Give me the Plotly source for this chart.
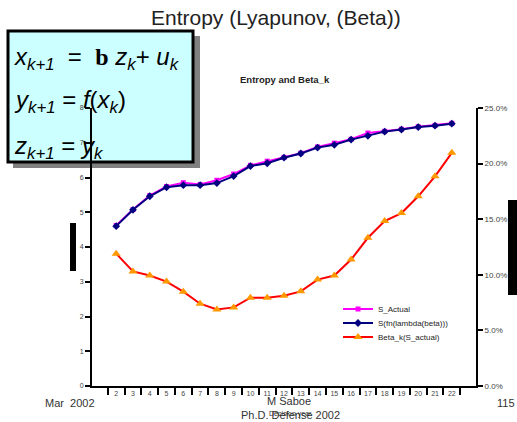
import plotly.graph_objects as go

W, H = 517, 422
ML, MR, MT, MB = 92, 41, 108, 36

cats = [str(k) for k in range(2, 23)]
s_actual = [4.62, 5.08, 5.48, 5.74, 5.85, 5.80, 5.92, 6.10, 6.35, 6.47, 6.58, 6.70, 6.88, 6.99, 7.10, 7.28, 7.33, 7.39, 7.46, 7.50, 7.56]
s_fn = [4.60, 5.07, 5.46, 5.72, 5.78, 5.78, 5.84, 6.04, 6.33, 6.41, 6.57, 6.69, 6.86, 6.94, 7.09, 7.20, 7.32, 7.38, 7.45, 7.49, 7.55]
beta_k = [0.119, 0.103, 0.0993, 0.0939, 0.0848, 0.074, 0.0689, 0.0707, 0.0794, 0.0794, 0.0812, 0.0851, 0.0957, 0.0993, 0.1137, 0.1333, 0.1483, 0.1555, 0.1706, 0.1886, 0.2097]

left_ticks = list(range(0, 9))
right_ticks = [0, 0.05, 0.10, 0.15, 0.20, 0.25]

PW, PH = W - ML - MR, H - MT - MB


def px(x):
    return (x - ML) / PW


def py(y):
    return (H - MB - y) / PH


fig = go.Figure()
fig.add_trace(go.Scatter(x=cats, y=s_actual, name="S_Actual", mode="lines+markers",
                         legend="legend",
                         line=dict(color="#ff00ff", width=2),
                         marker=dict(symbol="square", size=5, color="#ff00ff")))
fig.add_trace(go.Scatter(x=cats, y=s_fn, name="S(fn(lambda(beta)))", mode="lines+markers",
                         legend="legend2",
                         line=dict(color="#000080", width=2),
                         marker=dict(symbol="diamond", size=6, color="#000080")))
fig.add_trace(go.Scatter(x=cats, y=beta_k, name="Beta_k(S_actual)", mode="lines+markers",
                         yaxis="y2", legend="legend3",
                         line=dict(color="#ff0000", width=2),
                         marker=dict(symbol="triangle-up", size=8, color="#ff9900")))

legfont = dict(family="Arial", size=8, color="#222222")


def leg(ycen):
    return dict(x=px(338), y=py(ycen), xanchor="left", yanchor="middle", font=legfont,
                bgcolor="rgba(0,0,0,0)", itemwidth=30, borderwidth=0)


tickfont = dict(family="Arial", size=7, color="#444444")
fig.update_layout(
    width=W, height=H, autosize=False,
    margin=dict(l=ML, r=MR, t=MT, b=MB, autoexpand=False),
    paper_bgcolor="white", plot_bgcolor="rgba(0,0,0,0)",
    showlegend=True,
    legend=leg(309), legend2=leg(323), legend3=leg(337),
    xaxis=dict(type="category", tickson="boundaries", showgrid=False, zeroline=False,
               showline=True, linecolor="black", linewidth=2, ticks="outside",
               ticklen=7, tickwidth=2, tickcolor="black", tickfont=tickfont, tickangle=0),
    yaxis=dict(range=[0, 8], tickvals=left_ticks, showgrid=False, zeroline=False,
               showline=True, linecolor="black", linewidth=2, ticks="outside",
               ticklen=5, tickwidth=2, tickcolor="black", tickfont=tickfont),
    yaxis2=dict(range=[0, 0.25], tickvals=right_ticks, tickformat=".1%", overlaying="y",
                side="right", showgrid=False, zeroline=False, showline=True,
                linecolor="black", linewidth=2, ticks="outside", ticklen=5, tickwidth=2,
                tickcolor="black", tickfont=dict(family="Arial", size=8, color="#444444")),
)

shapes = [
    # shadow of equation box
    dict(type="rect", xref="paper", yref="paper", x0=px(13), x1=px(200), y0=py(168), y1=py(36),
         fillcolor="#808080", line=dict(width=0), layer="below"),
    # equation box
    dict(type="rect", xref="paper", yref="paper", x0=px(8), x1=px(193), y0=py(162), y1=py(31),
         fillcolor="#ccffff", line=dict(color="black", width=3), layer="below"),
    # black bars
    dict(type="rect", xref="paper", yref="paper", x0=px(70), x1=px(76), y0=py(271), y1=py(223),
         fillcolor="black", line=dict(width=0)),
    dict(type="rect", xref="paper", yref="paper", x0=px(508), x1=px(517), y0=py(295), y1=py(200),
         fillcolor="black", line=dict(width=0)),
]
fig.update_layout(shapes=shapes)

eqfont = dict(family="Arial", size=24, color="black")
ann = [
    dict(text="Entropy (Lyapunov, (Beta))", x=px(276), y=py(17), font=dict(family="Arial", size=21, color="#222222")),
    dict(text="<b>Entropy and Beta_k</b>", x=px(285), y=py(80), font=dict(family="Arial", size=9.5, color="#222222")),
    dict(text="<i>x<sub>k+1</sub></i>  =  <b><span style='font-family:Liberation Serif'>b</span></b> <i>z<sub>k</sub></i>+ <i>u<sub>k</sub></i>",
         x=px(12), y=py(58), xanchor="left", font=eqfont),
    dict(text="<i>y<sub>k+1</sub></i> = <i>f</i>(<i>x<sub>k</sub></i>)",
         x=px(12), y=py(102), xanchor="left", font=eqfont),
    dict(text="<i>z<sub>k+1</sub></i> = <i>y<sub>k</sub></i>",
         x=px(12), y=py(147), xanchor="left", font=eqfont),
    dict(text="Mar  2002", x=px(97), y=py(403), xanchor="right", font=dict(family="Arial", size=11, color="#333333")),
    dict(text="115", x=px(517), y=py(403), xanchor="right", font=dict(family="Arial", size=11, color="#333333")),
    dict(text="Ph.D. Defense 2002", x=px(290), y=py(415), font=dict(family="Arial", size=11, color="#333333")),
    dict(text="Decision year", x=px(290), y=py(414), font=dict(family="Arial", size=7, color="#333333")),
    dict(text="M Saboe", x=px(289), y=py(401), font=dict(family="Arial", size=11, color="#333333")),
]
for a in ann:
    a.update(xref="paper", yref="paper", showarrow=False, yanchor=a.get("yanchor", "middle"))
fig.update_layout(annotations=ann)

fig.write_html("out.html", config={"displayModeBar": False},
               post_script="document.body.style.margin='0px';")
